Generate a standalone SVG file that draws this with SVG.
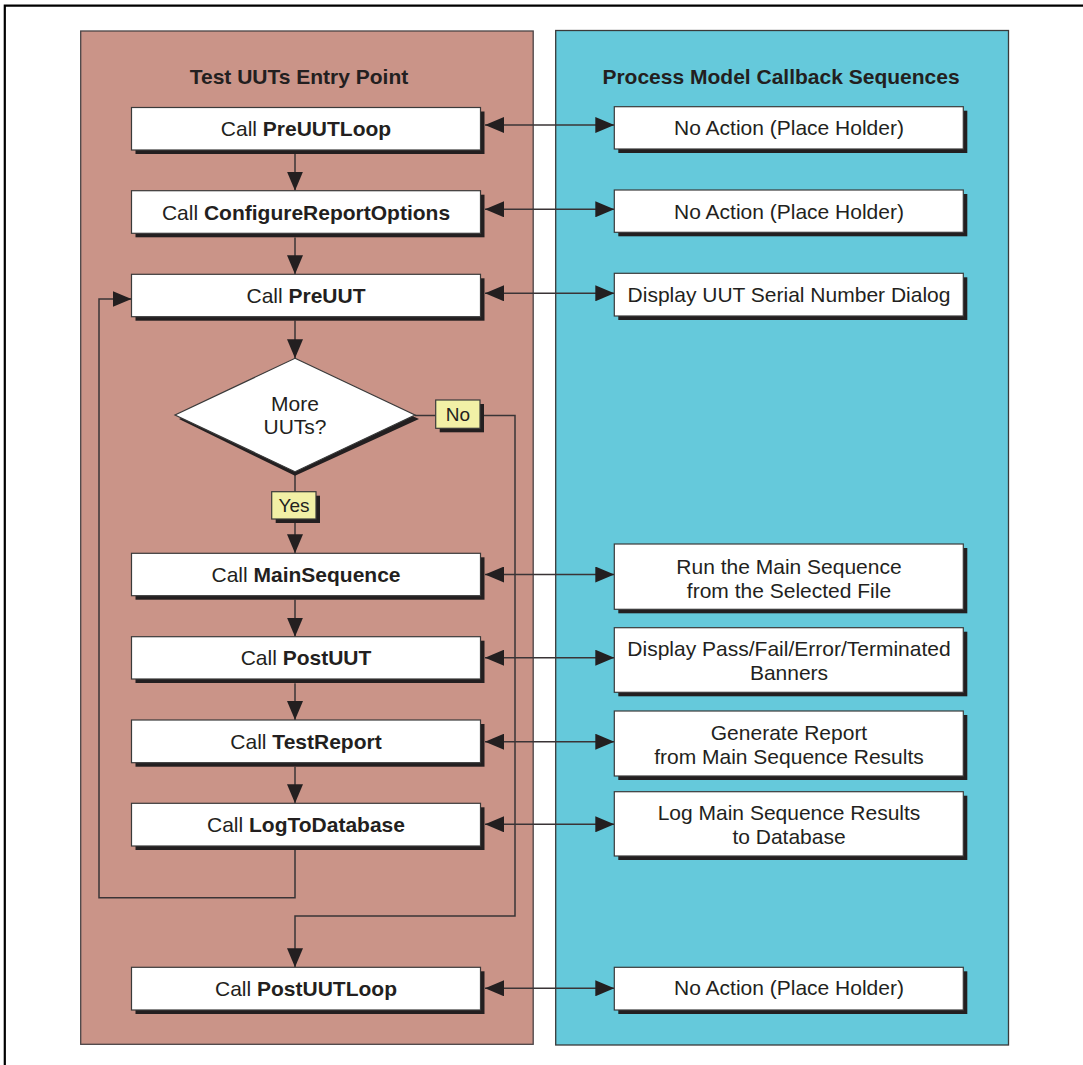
<svg xmlns="http://www.w3.org/2000/svg" width="1083" height="1065" viewBox="0 0 1083 1065">
<style>
  text { font-family: "Liberation Sans", Arial, sans-serif; fill: #231f20; }
  .t { font-size: 21px; text-anchor: middle; }
  .title { font-size: 21px; font-weight: bold; text-anchor: middle; }
  .lbl { font-size: 19px; text-anchor: middle; }
  .b { font-weight: bold; }
  .box { fill: #ffffff; stroke: #3a3a3a; stroke-width: 1.2; }
  .shadow { fill: #231f20; }
  .tag { fill: #f2f0a6; stroke: #3a3a3a; stroke-width: 1.2; }
  .line { fill: none; stroke: #3a3436; stroke-width: 1.5; }
</style>
<defs>
  <marker id="ah" markerUnits="userSpaceOnUse" markerWidth="20" markerHeight="16" refX="19" refY="8" orient="auto-start-reverse" viewBox="0 0 20 16">
    <path d="M0,0 L19,8 L0,16 z" fill="#231f20"/>
  </marker>
</defs>
<rect x="0" y="0" width="1083" height="1065" fill="#ffffff"/>
<!-- frame -->
<path d="M4.8,1065 V5.6 H1083" fill="none" stroke="#000" stroke-width="2.2"/>

<!-- panels -->
<g id="panel-left">
  <rect x="80.7" y="31" width="452.5" height="1013.3" fill="#ca9488" stroke="#4a4446" stroke-width="1.3"/>
  <text class="title" x="299" y="84">Test UUTs Entry Point</text>
</g>
<g id="panel-right">
  <rect x="555.7" y="30.5" width="452.8" height="1014.5" fill="#65c9db" stroke="#3a3a3a" stroke-width="1.3"/>
  <text class="title" x="781" y="84">Process Model Callback Sequences</text>
</g>

<!-- connectors -->
<g id="connectors">
  <line class="line" x1="295" y1="154" x2="295" y2="190.7" marker-end="url(#ah)"/>
  <line class="line" x1="295" y1="237.5" x2="295" y2="274.3" marker-end="url(#ah)"/>
  <line class="line" x1="295" y1="320.5" x2="295" y2="358.3" marker-end="url(#ah)"/>
  <line class="line" x1="295" y1="472" x2="295" y2="491.7"/>
  <line class="line" x1="295" y1="519" x2="295" y2="553.3" marker-end="url(#ah)"/>
  <line class="line" x1="415" y1="415.5" x2="435.7" y2="415.5"/>
  <path class="line" d="M480,415.5 H515 V916 H295 V967.3" marker-end="url(#ah)"/>
  <line class="line" x1="295" y1="599.7" x2="295" y2="636.7" marker-end="url(#ah)"/>
  <line class="line" x1="295" y1="683.3" x2="295" y2="720" marker-end="url(#ah)"/>
  <line class="line" x1="295" y1="766.7" x2="295" y2="803.3" marker-end="url(#ah)"/>
  <path class="line" d="M295,850 V897.7 H99 V299 H131.5" marker-end="url(#ah)"/>
  <line class="line" x1="485" y1="125" x2="614.3" y2="125" marker-start="url(#ah)" marker-end="url(#ah)"/>
  <line class="line" x1="485" y1="209.3" x2="614.3" y2="209.3" marker-start="url(#ah)" marker-end="url(#ah)"/>
  <line class="line" x1="485" y1="293.3" x2="614.3" y2="293.3" marker-start="url(#ah)" marker-end="url(#ah)"/>
  <line class="line" x1="485" y1="574.5" x2="614.3" y2="574.5" marker-start="url(#ah)" marker-end="url(#ah)"/>
  <line class="line" x1="485" y1="657.7" x2="614.3" y2="657.7" marker-start="url(#ah)" marker-end="url(#ah)"/>
  <line class="line" x1="485" y1="741.7" x2="614.3" y2="741.7" marker-start="url(#ah)" marker-end="url(#ah)"/>
  <line class="line" x1="485" y1="824.3" x2="614.3" y2="824.3" marker-start="url(#ah)" marker-end="url(#ah)"/>
  <line class="line" x1="485" y1="988.3" x2="614.3" y2="988.3" marker-start="url(#ah)" marker-end="url(#ah)"/>
</g>

<!-- left nodes -->
<g id="n-preuutloop">
  <rect class="shadow" x="135.5" y="111.5" width="349" height="42.5"/>
  <rect class="box" x="131.5" y="107.5" width="349" height="42.5"/>
  <text class="t" x="306" y="136">Call <tspan class="b">PreUUTLoop</tspan></text>
</g>
<g id="n-configure">
  <rect class="shadow" x="135.5" y="194.7" width="349" height="42.6"/>
  <rect class="box" x="131.5" y="190.7" width="349" height="42.6"/>
  <text class="t" x="306" y="219.5">Call <tspan class="b">ConfigureReportOptions</tspan></text>
</g>
<g id="n-preuut">
  <rect class="shadow" x="135.5" y="278.3" width="349" height="42.4"/>
  <rect class="box" x="131.5" y="274.3" width="349" height="42.4"/>
  <text class="t" x="306" y="303">Call <tspan class="b">PreUUT</tspan></text>
</g>
<g id="n-decision">
  <polygon class="shadow" points="295,362.3 419,419 295,475.7 179,419"/>
  <polygon class="box" points="295,358.3 415,415 295,471.7 175,415"/>
  <text class="t" x="295" y="411">More</text>
  <text class="t" x="295" y="434">UUTs?</text>
</g>
<g id="lbl-no">
  <rect class="shadow" x="439.7" y="404" width="44.3" height="28.3"/>
  <rect class="tag" x="435.7" y="400" width="44.3" height="28.3"/>
  <text class="lbl" x="458" y="421">No</text>
</g>
<g id="lbl-yes">
  <rect class="shadow" x="275.7" y="495.7" width="44.3" height="27.3"/>
  <rect class="tag" x="271.7" y="491.7" width="44.3" height="27.3"/>
  <text class="lbl" x="294" y="512">Yes</text>
</g>
<g id="n-mainsequence">
  <rect class="shadow" x="135.5" y="557.3" width="349" height="42.4"/>
  <rect class="box" x="131.5" y="553.3" width="349" height="42.4"/>
  <text class="t" x="306" y="582">Call <tspan class="b">MainSequence</tspan></text>
</g>
<g id="n-postuut">
  <rect class="shadow" x="135.5" y="640.7" width="349" height="42.3"/>
  <rect class="box" x="131.5" y="636.7" width="349" height="42.3"/>
  <text class="t" x="306" y="665.3">Call <tspan class="b">PostUUT</tspan></text>
</g>
<g id="n-testreport">
  <rect class="shadow" x="135.5" y="724" width="349" height="42.7"/>
  <rect class="box" x="131.5" y="720" width="349" height="42.7"/>
  <text class="t" x="306" y="748.8">Call <tspan class="b">TestReport</tspan></text>
</g>
<g id="n-logtodatabase">
  <rect class="shadow" x="135.5" y="807.3" width="349" height="42.7"/>
  <rect class="box" x="131.5" y="803.3" width="349" height="42.7"/>
  <text class="t" x="306" y="832">Call <tspan class="b">LogToDatabase</tspan></text>
</g>
<g id="n-postuutloop">
  <rect class="shadow" x="135.5" y="971.3" width="349" height="42.7"/>
  <rect class="box" x="131.5" y="967.3" width="349" height="42.7"/>
  <text class="t" x="306" y="996">Call <tspan class="b">PostUUTLoop</tspan></text>
</g>

<!-- right nodes -->
<g id="r-1">
  <rect class="shadow" x="618.3" y="110.7" width="349" height="42.3"/>
  <rect class="box" x="614.3" y="106.7" width="349" height="42.3"/>
  <text class="t" x="789" y="135.3">No Action (Place Holder)</text>
</g>
<g id="r-2">
  <rect class="shadow" x="618.3" y="194" width="349" height="42.3"/>
  <rect class="box" x="614.3" y="190" width="349" height="42.3"/>
  <text class="t" x="789" y="218.6">No Action (Place Holder)</text>
</g>
<g id="r-3">
  <rect class="shadow" x="618.3" y="277.3" width="349" height="42.7"/>
  <rect class="box" x="614.3" y="273.3" width="349" height="42.7"/>
  <text class="t" x="789" y="302.2">Display UUT Serial Number Dialog</text>
</g>
<g id="r-4">
  <rect class="shadow" x="618.3" y="548" width="349" height="65.3"/>
  <rect class="box" x="614.3" y="544" width="349" height="65.3"/>
  <text class="t" x="789" y="573.5">Run the Main Sequence</text>
  <text class="t" x="789" y="597.5">from the Selected File</text>
</g>
<g id="r-5">
  <rect class="shadow" x="618.3" y="631.7" width="349" height="64.6"/>
  <rect class="box" x="614.3" y="627.7" width="349" height="64.6"/>
  <text class="t" x="789" y="655.5">Display Pass/Fail/Error/Terminated</text>
  <text class="t" x="789" y="679.5">Banners</text>
</g>
<g id="r-6">
  <rect class="shadow" x="618.3" y="715" width="349" height="65"/>
  <rect class="box" x="614.3" y="711" width="349" height="65"/>
  <text class="t" x="789" y="739.5">Generate Report</text>
  <text class="t" x="789" y="763.5">from Main Sequence Results</text>
</g>
<g id="r-7">
  <rect class="shadow" x="618.3" y="795.7" width="349" height="64.3"/>
  <rect class="box" x="614.3" y="791.7" width="349" height="64.3"/>
  <text class="t" x="789" y="819.5">Log Main Sequence Results</text>
  <text class="t" x="789" y="843.5">to Database</text>
</g>
<g id="r-8">
  <rect class="shadow" x="618.3" y="971.3" width="349" height="42.7"/>
  <rect class="box" x="614.3" y="967.3" width="349" height="42.7"/>
  <text class="t" x="789" y="995.3">No Action (Place Holder)</text>
</g>
</svg>
